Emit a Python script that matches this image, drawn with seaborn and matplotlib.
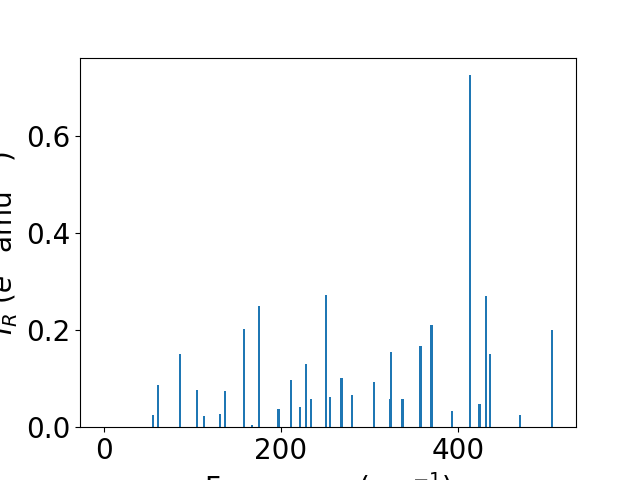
import numpy as np
import pandas as pd
import matplotlib
matplotlib.use('Agg')
import matplotlib.pyplot as plt
import seaborn as sns

# vibrational modes
freq = [0.0, 55.8, 61.5, 86.4, 105.7, 113.6, 131.7, 137.4, 158.2, 167.2, 175.2,
        197.3, 211.5, 221.7, 228.5, 234.2, 251.2, 255.8, 268.5, 280.6, 305.6,
        323.4, 324.0, 337.3, 357.7, 370.2, 392.9, 413.6, 424.3, 431.4, 435.9,
        470.0, 506.6]
intensity = [0.0, 0.025, 0.087, 0.151, 0.076, 0.023, 0.027, 0.074, 0.202, 0.004, 0.250,
             0.037, 0.097, 0.041, 0.130, 0.058, 0.272, 0.062, 0.101, 0.066, 0.093,
             0.058, 0.155, 0.058, 0.167, 0.210, 0.033, 0.726, 0.047, 0.270, 0.152,
             0.025, 0.200]

df = pd.DataFrame({'freq': freq, 'intensity': intensity})

# bar width in data units, seaborn scales width by the smallest spacing
bar_w = 2.5
min_gap = np.diff(np.unique(df['freq'])).min()

fig, ax = plt.subplots(figsize=(6.4, 4.8), dpi=100)
sns.barplot(data=df, x='freq', y='intensity', native_scale=True,
            width=bar_w / min_gap, color='#1f77b4', saturation=1,
            errorbar=None, linewidth=0, ax=ax)

ax.set_xlabel('Frequency (cm$^{-1}$)', fontsize=20)
ax.set_ylabel('$I_R$ ($e^2$ amu$^{-1}$)', fontsize=20)
ax.tick_params(labelsize=20)
ax.set_xticks([0, 200, 400])
ax.set_yticks([0.0, 0.2, 0.4, 0.6])

plt.savefig('out.png')
